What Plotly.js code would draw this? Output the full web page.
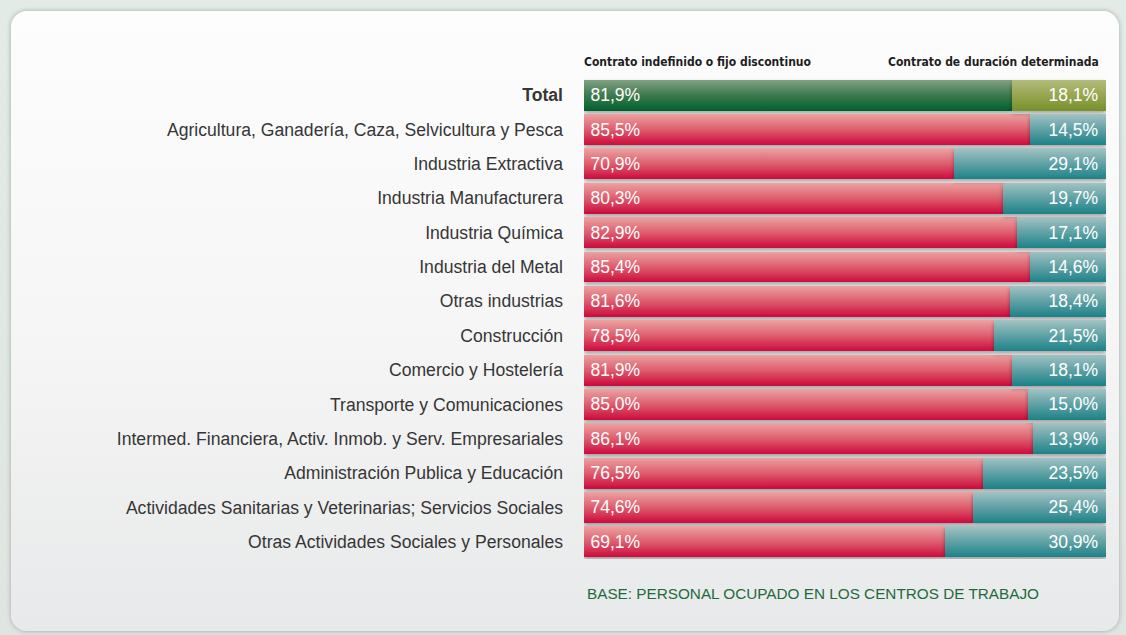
<!DOCTYPE html>
<html>
<head>
<meta charset="utf-8">
<script src="https://cdn.plot.ly/plotly-3.0.1.min.js"></script>
<style>
  html, body { margin: 0; padding: 0; width: 1126px; height: 635px; overflow: hidden; }
  body { background: linear-gradient(to bottom, #e2ebe6, #dfe6e2); position: relative; }
  #panel {
    position: absolute; left: 11px; top: 11px; width: 1108px; height: 620px;
    border-radius: 16px;
    background: linear-gradient(to bottom, #fdfdfd 0%, #f6f6f6 50%, #e8e9ea 100%);
    box-shadow: 0 0 5px rgba(0,0,0,0.28);
  }
  #chart { position: absolute; left: 0; top: 0; width: 1126px; height: 635px; }
</style>
</head>
<body>
<div id="panel"></div>
<div id="chart"></div>
<script>
const categories = [
  "Total",
  "Agricultura, Ganadería, Caza, Selvicultura y Pesca",
  "Industria Extractiva",
  "Industria Manufacturera",
  "Industria Química",
  "Industria del Metal",
  "Otras industrias",
  "Construcción",
  "Comercio y Hostelería",
  "Transporte y Comunicaciones",
  "Intermed. Financiera, Activ. Inmob. y Serv. Empresariales",
  "Administración Publica y Educación",
  "Actividades Sanitarias y Veterinarias; Servicios Sociales",
  "Otras Actividades Sociales y Personales"
];
const indefinido = [81.9, 85.5, 70.9, 80.3, 82.9, 85.4, 81.6, 78.5, 81.9, 85.0, 86.1, 76.5, 74.6, 69.1];
const determinada = [18.1, 14.5, 29.1, 19.7, 17.1, 14.6, 18.4, 21.5, 18.1, 15.0, 13.9, 23.5, 25.4, 30.9];
const seriesNames = ["Contrato indefinido o fijo discontinuo", "Contrato de duración determinada"];
const footerText = "BASE: PERSONAL OCUPADO EN LOS CENTROS DE TRABAJO";

const tickText = categories.map((c, i) => i === 0 ? "<b>" + c + "</b>" : c);
const labelFont = "'Liberation Sans', Arial, sans-serif";
const narrowFont = "'Liberation Sans Narrow', 'DejaVu Sans Condensed', 'Arial Narrow', sans-serif";

const traces = [
  {
    type: "bar", orientation: "h", name: seriesNames[0],
    y: categories, x: indefinido,
    marker: { color: categories.map((c, i) => i === 0 ? "#3f7a4f" : "#dc4a62"), line: { width: 0 } },
    texttemplate: "\u2009%{x:.1f}%", textposition: "inside", insidetextanchor: "start",
    textfont: { color: "#ffffff", size: 17.5, family: labelFont },
    constraintext: "none", cliponaxis: false
  },
  {
    type: "bar", orientation: "h", name: seriesNames[1],
    y: categories, x: determinada,
    marker: { color: categories.map((c, i) => i === 0 ? "#98a652" : "#5fa2a5"), line: { width: 0 } },
    texttemplate: "%{x:.1f}%\u00a0", textposition: "inside", insidetextanchor: "end",
    textfont: { color: "#ffffff", size: 17.5, family: labelFont },
    constraintext: "none", cliponaxis: false
  }
];

const layout = {
  width: 1126, height: 635,
  margin: { l: 584, r: 20, t: 78, b: 76, pad: 0 },
  paper_bgcolor: "rgba(0,0,0,0)", plot_bgcolor: "rgba(0,0,0,0)",
  barmode: "stack", bargap: 0.1,
  separators: ",.",
  showlegend: false,
  hovermode: false,
  xaxis: { range: [0, 100], visible: false, fixedrange: true },
  yaxis: {
    type: "category", autorange: "reversed",
    tickvals: categories, ticktext: tickText,
    showgrid: false, zeroline: false, showline: false, ticks: "",
    ticklabelstandoff: 20,
    tickfont: { family: labelFont, size: 17.6, color: "#363636" },
    fixedrange: true
  },
  annotations: [
    { xref: "paper", yref: "paper", x: 0, y: 1, xanchor: "left", yanchor: "middle", yshift: 16, xshift: -2,
      text: "<b>" + seriesNames[0] + "</b>", showarrow: false,
      font: { family: narrowFont, size: 12, color: "#1e1e1e" } },
    { xref: "paper", yref: "paper", x: 1, y: 1, xanchor: "right", yanchor: "middle", yshift: 16, xshift: -5,
      text: "<b>" + seriesNames[1] + "</b>", showarrow: false,
      font: { family: narrowFont, size: 12, color: "#1e1e1e" } },
    { xref: "paper", yref: "paper", x: 0, y: 0, xanchor: "left", yanchor: "middle", yshift: -34, xshift: 1,
      text: footerText, showarrow: false,
      font: { family: labelFont, size: 15.3, color: "#1d6b3c" } }
  ]
};

const gd = document.getElementById("chart");
Plotly.newPlot(gd, traces, layout, { displayModeBar: false, staticPlot: true }).then(() => {
  const NS = "http://www.w3.org/2000/svg";
  const svg = gd.querySelector(".main-svg");
  const defs = document.createElementNS(NS, "defs");
  const grads = {
    gG: ["#82a283", "#3e7a4e", "#00602e"],
    gR: ["#eca3a2", "#de5d6d", "#cc0a3c"],
    gO: ["#b3bd7c", "#98a552", "#77922a"],
    gT: ["#a2c2c3", "#5fa1a5", "#1b8288"]
  };
  Object.keys(grads).forEach(id => {
    const lg = document.createElementNS(NS, "linearGradient");
    lg.setAttribute("id", id);
    lg.setAttribute("x1", "0"); lg.setAttribute("y1", "0");
    lg.setAttribute("x2", "0"); lg.setAttribute("y2", "1");
    grads[id].forEach((col, k) => {
      const st = document.createElementNS(NS, "stop");
      st.setAttribute("offset", (k / (grads[id].length - 1) * 100) + "%");
      st.setAttribute("stop-color", col);
      lg.appendChild(st);
    });
    defs.appendChild(lg);
  });
  const f = document.createElementNS(NS, "filter");
  f.setAttribute("id", "barShadow");
  f.setAttribute("x", "-5%"); f.setAttribute("y", "-30%");
  f.setAttribute("width", "110%"); f.setAttribute("height", "170%");
  const ds = document.createElementNS(NS, "feDropShadow");
  ds.setAttribute("dx", "0"); ds.setAttribute("dy", "2.5");
  ds.setAttribute("stdDeviation", "2");
  ds.setAttribute("flood-color", "#000");
  ds.setAttribute("flood-opacity", "0.35");
  f.appendChild(ds);
  defs.appendChild(f);
  svg.insertBefore(defs, svg.firstChild);

  gd.querySelectorAll(".barlayer .trace").forEach((tr, ti) => {
    tr.querySelectorAll(".point").forEach((pt, pi) => {
      const p = pt.querySelector("path");
      if (!p) return;
      const id = ti === 0 ? (pi === 0 ? "gG" : "gR") : (pi === 0 ? "gO" : "gT");
      p.style.fill = "url(#" + id + ")";
      p.setAttribute("filter", "url(#barShadow)");
    });
  });
});
</script>
</body>
</html>
